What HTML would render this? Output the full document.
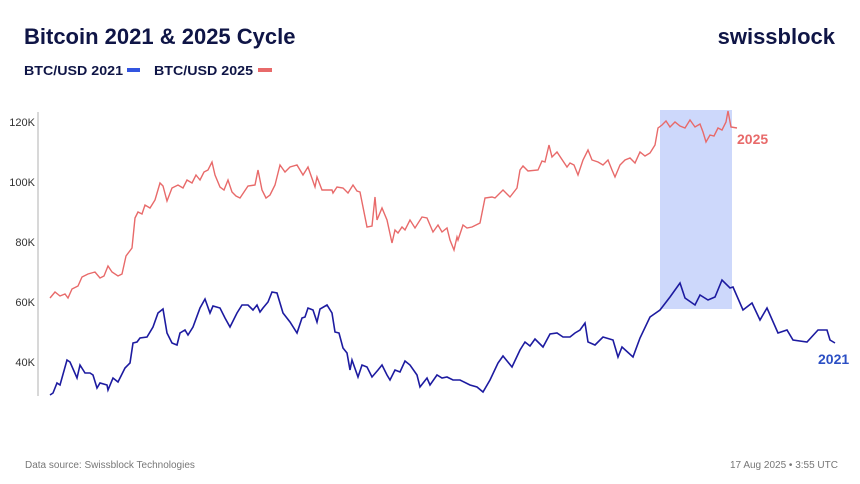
<!DOCTYPE html>
<html><head><meta charset="utf-8"><style>
body{margin:0;background:#fff;width:860px;height:484px;overflow:hidden;font-family:"Liberation Sans",sans-serif}
</style></head><body>
<svg width="860" height="484" xmlns="http://www.w3.org/2000/svg" style="position:absolute;left:0;top:0">
<text x="24" y="44" font-size="22" font-weight="bold" fill="#0f1546" font-family="Liberation Sans">Bitcoin 2021 &amp; 2025 Cycle</text>
<text x="835" y="44" font-size="22" font-weight="bold" fill="#0f1546" text-anchor="end" font-family="Liberation Sans">swissblock</text>
<text x="24" y="75" font-size="13" font-weight="bold" fill="#0f1546" textLength="99" lengthAdjust="spacingAndGlyphs">BTC/USD 2021</text>
<rect x="127" y="68" width="13" height="4" fill="#3355e0"/>
<text x="154" y="75" font-size="13" font-weight="bold" fill="#0f1546" textLength="99" lengthAdjust="spacingAndGlyphs">BTC/USD 2025</text>
<rect x="258" y="68" width="14" height="4" fill="#e86a6a"/>
<line x1="38" y1="112" x2="38" y2="396" stroke="#ccc" stroke-width="1.5"/>
<g font-size="11" fill="#333" text-anchor="end">
<text x="35" y="126">120K</text><text x="35" y="186">100K</text><text x="35" y="246">80K</text><text x="35" y="306">60K</text><text x="35" y="366">40K</text>
</g>
<rect x="660" y="110" width="72" height="199" fill="#cdd8fb"/>
<polyline fill="none" stroke="#e86a6a" stroke-width="1.4" points="50,298 55,292 60,296 65,294 68,298 72,289 78,286 82,277 88,274 95,272 100,278 104,276 108,266 112,272 118,276 122,274 126,256 132,248 135,218 138,212 142,214 145,205 150,208 155,200 160,183 163,186 167,201 172,188 178,185 183,188 187,180 192,183 196,175 200,180 204,172 208,170 212,162 215,175 220,187 224,190 228,180 232,192 236,196 240,198 244,192 248,186 255,185 258,170 262,190 266,198 270,195 275,185 280,165 285,172 290,167 297,165 303,175 308,167 315,187 317,177 322,190 332,190 333,193 337,187 343,188 348,193 353,185 357,191 360,192 367,227 372,226 375,197 377,220 382,208 387,220 392,243 395,230 398,233 402,227 405,230 410,220 415,228 422,217 427,218 433,232 438,225 442,232 447,228 450,240 454,250 457,237 458,240 463,225 467,228 472,227 480,223 485,198 492,197 495,198 498,195 503,190 510,197 517,188 520,170 523,166 528,171 538,170 542,161 545,162 549,145 552,157 557,152 567,167 570,163 574,165 578,175 583,160 588,150 592,160 598,162 603,165 608,160 612,170 615,177 620,165 625,160 630,158 635,163 640,152 645,156 650,153 655,145 658,128 662,125 666,121 670,127 675,122 680,126 685,128 690,120 695,127 700,124 703,132 706,142 710,135 714,136 718,128 722,130 726,122 728,111 731,127 737,128"/>
<polyline fill="none" stroke="#1d1ba0" stroke-width="1.6" points="50,395 53,393 57,383 60,385 67,360 70,362 77,378 80,365 85,373 90,373 93,375 97,388 100,383 107,385 108,390 113,378 118,382 125,368 130,363 133,343 137,342 140,338 147,337 153,327 158,313 163,309 167,333 172,343 177,345 180,333 185,330 188,335 193,327 200,308 205,299 210,313 213,306 220,308 225,318 230,327 237,313 242,305 248,305 253,310 257,305 260,312 263,308 268,302 272,292 277,293 283,313 290,322 297,333 302,318 305,317 308,308 313,310 317,322 320,309 327,305 332,313 335,332 339,333 343,348 347,353 350,370 352,360 358,377 362,365 367,367 372,377 378,370 382,365 387,375 390,380 395,370 400,372 405,361 410,365 417,375 420,387 427,378 430,385 437,375 442,378 447,377 453,380 460,380 470,385 477,387 483,392 490,380 498,363 503,356 512,367 520,350 525,342 530,346 535,339 543,347 550,334 557,333 563,337 570,337 575,333 580,330 585,323 588,342 595,345 603,337 613,340 618,357 622,347 633,357 640,338 650,317 660,310 670,297 680,283 685,298 695,305 700,295 708,300 715,297 722,280 730,288 733,287 743,310 752,303 760,320 767,308 778,333 787,330 793,340 807,342 818,330 827,330 830,340 835,343"/>
<text x="737" y="144" font-size="14" font-weight="bold" fill="#e86a6a">2025</text>
<text x="818" y="364" font-size="14" font-weight="bold" fill="#2b4fc4">2021</text>
<text x="25" y="468" font-size="10" fill="#777">Data source: Swissblock Technologies</text>
<text x="838" y="468" font-size="10" fill="#777" text-anchor="end">17 Aug 2025 • 3:55 UTC</text>
</svg>
</body></html>
